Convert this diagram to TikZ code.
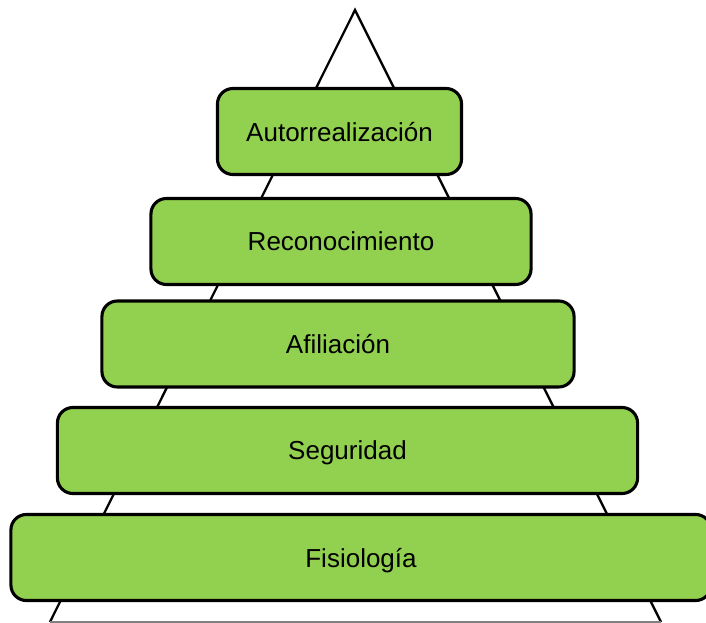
\documentclass[tikz,border=0pt]{standalone}
\usepackage{fontspec}
\setmainfont{Liberation Sans}
\definecolor{verdenivel}{HTML}{92D050}

\begin{document}
\begin{tikzpicture}[x=0.025cm, y=-0.025cm,
            nivel/.style={draw=black, fill=verdenivel, line width=2.2pt, rounded corners=11pt,
                inner sep=0pt, minimum height=2.15cm, text depth=0pt, font=\fontsize{18.5}{22}\selectfont}]
            \useasboundingbox (0,0) rectangle (706,623);
            \clip (0,0) rectangle (706,623);
            % triangulo de fondo
            \coordinate (cima) at (355,10);
            \coordinate (izq) at (50,622);
            \coordinate (der) at (661,622);
            \draw[line width=1.6pt, line join=miter] (izq) -- (cima) -- (der);
            \draw[line width=1.4pt, gray] (izq) -- (der);
            % niveles
            \node[nivel, minimum width=6.1cm] (auto) at (339.5,131.5) {Autorrealización};
            \node[nivel, minimum width=9.5cm] (reco) at (341,241.5) {Reconocimiento};
            \node[nivel, minimum width=11.8cm] (afil) at (338,344) {Afiliación};
            \node[nivel, minimum width=14.5cm] (segu) at (347.5,450.5) {Seguridad};
            \node[nivel, minimum width=17.5cm] (fisi) at (361,557.5) {Fisiología};
        \end{tikzpicture}
\end{document}
